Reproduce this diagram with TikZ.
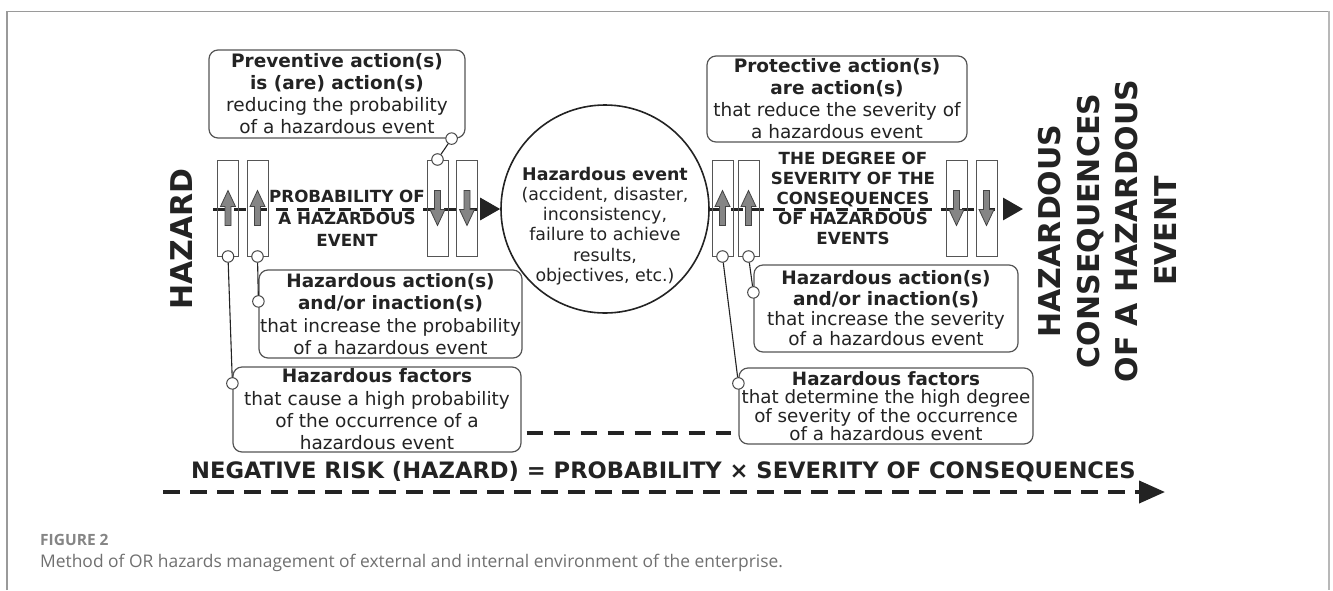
\documentclass[tikz,border=0pt]{standalone}
\usepackage{fontspec}
\setmainfont{DejaVu Sans}
\newfontfamily\capfont{Open Sans}
\usetikzlibrary{arrows.meta,calc}

\definecolor{ink}{HTML}{232323}
\definecolor{boxgray}{HTML}{555555}
\definecolor{pingray}{HTML}{444444}
\definecolor{arrowgray}{HTML}{858585}
\definecolor{framegray}{HTML}{9A9A9A}
\definecolor{captiongray}{HTML}{707070}

\tikzset{
  infobox/.style={draw=boxgray, line width=1.2pt, rounded corners=9pt,
    inner sep=0pt, align=center, text=ink},
  bar/.style={draw=boxgray, line width=1pt, minimum width=21pt,
    minimum height=96pt, inner sep=0pt},
  pin/.style={circle, draw=pingray, fill=white, line width=1pt,
    minimum size=11.5pt, inner sep=0pt},
  link/.style={draw=ink, line width=1.1pt},
  mainline/.style={draw=ink, line width=3pt, dash pattern=on 12pt off 9pt,
    -{Triangle[length=20pt,width=22pt]}},
  middash/.style={draw=ink, line width=4pt, dash pattern=on 16pt off 11pt},
  riskline/.style={draw=ink, line width=4pt, dash pattern=on 17pt off 10pt,
    -{Triangle[length=26pt,width=22pt]}},
  midlabel/.style={align=center, text=ink, inner sep=0pt},
  biglabel/.style={align=center, text=ink, inner sep=0pt, rotate=90,
    font=\fontsize{30}{38.5}\selectfont\bfseries},
  uparrow/.pic={\filldraw[fill=arrowgray, draw=pingray, line width=0.8pt]
    (-3,17.5) -- (-3,-1.5) -- (-7.5,-1.5) -- (0,-17.5) -- (7.5,-1.5)
    -- (3,-1.5) -- (3,17.5) -- cycle;},
  downarrow/.pic={\filldraw[fill=arrowgray, draw=pingray, line width=0.8pt]
    (-3,-17.5) -- (-3,1.5) -- (-7.5,1.5) -- (0,17.5) -- (7.5,1.5)
    -- (3,1.5) -- (3,-17.5) -- cycle;},
}

\begin{document}
\begin{tikzpicture}[x=1pt,y=-1pt]
  \useasboundingbox (0,0) rectangle (1333,590);
  \fill[white] (0,0) rectangle (1333,590);

  % page frame
  \draw[framegray, line width=1.2pt] (7,590) -- (7,11.5) -- (1329,11.5);
  \draw[framegray!70, line width=2.5pt] (1329,11) -- (1329,590);

  % side titles
  \node[biglabel] (hazard) at (181.5,239) {HAZARD};
  \node[biglabel] (conseq) at (1107.5,231)
    {HAZARDOUS\\CONSEQUENCES\\OF A HAZARDOUS\\EVENT};

  % central event
  \node[circle, draw=ink, line width=1.6pt, minimum size=208pt, inner sep=0pt]
    (ev) at (605,209) {};
  \node[midlabel, font=\fontsize{17.4}{20.2}\selectfont] (evlabel) at (605,226)
    {\textbf{Hazardous event}\\(accident, disaster,\\inconsistency,\\
     failure to achieve\\results,\\objectives, etc.)};

  % main axis
  \coordinate (axstart) at (213,209);
  \coordinate (axend) at (1023,209);
  \draw[mainline] (axstart) -- (ev.west);
  \draw[mainline] (ev.east) -- (axend);

  % axis labels
  \node[midlabel, font=\fontsize{16.7}{22}\selectfont\bfseries]
    (problabel) at (347,218) {PROBABILITY OF\\A HAZARDOUS\\EVENT};
  \node[midlabel, font=\fontsize{16.7}{20}\selectfont\bfseries]
    (sevlabel) at (853,198)
    {THE DEGREE OF\\SEVERITY OF THE\\CONSEQUENCES\\OF HAZARDOUS\\EVENTS};

  % bars with arrows
  \node[bar] (b1) at (228,208) {};
  \node[bar] (b2) at (257.5,208) {};
  \node[bar] (b3) at (437.5,208) {};
  \node[bar] (b4) at (467,208) {};
  \node[bar] (ra) at (722.5,208) {};
  \node[bar] (rb) at (748.5,208) {};
  \node[bar] (rc) at (956.5,208) {};
  \node[bar] (rd) at (986.5,208) {};
  \pic at (b1.center) {uparrow};
  \pic at (b2.center) {uparrow};
  \pic at (b3.center) {downarrow};
  \pic at (b4.center) {downarrow};
  \pic at (ra.center) {uparrow};
  \pic at (rb.center) {uparrow};
  \pic at (rc.center) {downarrow};
  \pic at (rd.center) {downarrow};

  % description boxes
  \node[infobox, minimum width=256pt, minimum height=88pt,
    font=\fontsize{18.5}{22}\selectfont] (prev) at (337,94)
    {\textbf{Preventive action(s)}\\\textbf{is (are) action(s)}\\
     reducing the probability\\of a hazardous event};
  \node[infobox, minimum width=260pt, minimum height=86pt,
    font=\fontsize{18.5}{22}\selectfont] (prot) at (837,99)
    {\textbf{Protective action(s)}\\\textbf{are action(s)}\\
     that reduce the severity of\\a hazardous event};
  \node[infobox, minimum width=263pt, minimum height=88pt,
    font=\fontsize{18.4}{22.5}\selectfont] (act1) at (390.5,314)
    {\textbf{Hazardous action(s)}\\\textbf{and/or inaction(s)}\\
     that increase the probability\\of a hazardous event};
  \node[infobox, minimum width=288pt, minimum height=85pt,
    font=\fontsize{18.5}{22.3}\selectfont] (fac1) at (377,409.5)
    {\textbf{Hazardous factors}\\that cause a high probability\\
     of the occurrence of a\\hazardous event};
  \node[infobox, minimum width=264pt, minimum height=87pt,
    font=\fontsize{18.5}{20.3}\selectfont] (act2) at (886,308.5)
    {\textbf{Hazardous action(s)}\\\textbf{and/or inaction(s)}\\
     that increase the severity\\of a hazardous event};
  \node[infobox, minimum width=294pt, minimum height=76pt,
    font=\fontsize{18.3}{18.5}\selectfont] (fac2) at (886,406)
    {\textbf{Hazardous factors}\\that determine the high degree\\
     of severity of the occurrence\\of a hazardous event};

  % connectors
  \node[pin] (p1) at ($(prev.south east)+(-14,0)$) {};
  \node[pin] (p2) at (b3.north) {};
  \node[pin] (p3) at (b1.south) {};
  \node[pin] (p4) at ($(fac1.north west)+(0,17)$) {};
  \node[pin] (p5) at (b2.south) {};
  \node[pin] (p6) at ($(act1.north west)+(0,32)$) {};
  \node[pin] (p7) at (ra.south) {};
  \node[pin] (p8) at ($(fac2.north west)+(0,16)$) {};
  \node[pin] (p9) at (rb.south) {};
  \node[pin] (p10) at ($(act2.north west)+(0,28)$) {};
  \draw[link] (p1) -- (p2);
  \draw[link] (p3) -- (p4);
  \draw[link] (p5) -- (p6);
  \draw[link] (p7) -- (p8);
  \draw[link] (p9) -- (p10);

  % link between factor boxes
  \draw[middash] ($(fac1.east)+(5,23.5)$) -- ($(fac2.west)+(-7,27)$);

  % risk formula
  \node[midlabel, font=\fontsize{22.6}{26}\selectfont\bfseries] (risk)
    at (663.5,472)
    {NEGATIVE RISK (HAZARD) = PROBABILITY \texttimes{} SEVERITY OF CONSEQUENCES};
  \coordinate (riskstart) at (163,492);
  \coordinate (riskend) at (1165,492);
  \draw[riskline] (riskstart) -- (riskend);

  % caption
  \node[anchor=west, inner sep=0pt, text=captiongray!85,
    font=\capfont\fontsize{15.5}{17}\selectfont\bfseries] (figno) at (40,540)
    {FIGURE 2};
  \node[anchor=west, inner sep=0pt, text=captiongray,
    font=\capfont\fontsize{17.4}{20}\selectfont] (caption) at (40,563)
    {Method of OR hazards management of external and internal environment of the enterprise.};
\end{tikzpicture}
\end{document}
